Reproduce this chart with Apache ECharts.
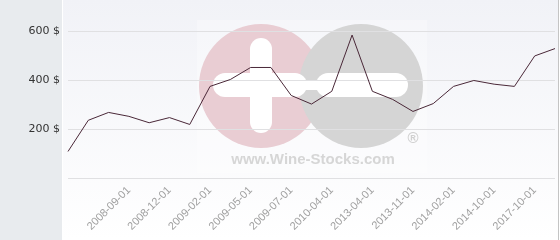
<!DOCTYPE html>
<html>
<head>
<meta charset="utf-8">
<script src="https://cdn.jsdelivr.net/npm/echarts@6/dist/echarts.min.js"></script>
<style>
html,body{margin:0;padding:0;background:#fff;}
#c{width:560px;height:240px;}
</style>
</head>
<body>
<div id="c"></div>
<script>
const categories = ['', '', '', '2008-09-01', '', '2008-12-01', '', '2009-02-01', '', '2009-05-01', '', '2009-07-01', '', '2010-04-01', '', '2013-04-01', '', '2013-11-01', '', '2014-02-01', '', '2014-10-01', '', '2017-10-01', ''];
const prices = [110, 237, 269, 253, 227, 248, 220, 375, 403, 452, 452, 338, 303, 355, 584, 355, 322, 273, 305, 375, 399, 384, 375, 499, 529];
const yTicks = [200, 400, 600];

const chart = echarts.init(document.getElementById('c'), null, {renderer: 'canvas'});
chart.setOption({
  animation: false,
  graphic: [
    {type: 'rect', z: -10, shape: {x: 0, y: 0, width: 62, height: 240}, style: {fill: '#e8ebee'}},
    {type: 'rect', z: -10, shape: {x: 63, y: 0, width: 495, height: 240},
      style: {fill: new echarts.graphic.LinearGradient(0, 0, 0, 1, [{offset: 0, color: '#f1f2f7'}, {offset: 1, color: '#ffffff'}])}},
    {type: 'rect', z: -10, shape: {x: 558, y: 0, width: 1, height: 240}, style: {fill: '#c4c4c4'}},
    {type: 'rect', z: -9, shape: {x: 197, y: 20, width: 230, height: 153}, style: {fill: 'rgba(255,255,255,0.3)'}},
    {type: 'circle', z: -8, shape: {cx: 261, cy: 86, r: 62}, style: {fill: '#e9cdd3'}},
    {type: 'circle', z: -7, shape: {cx: 361, cy: 86, r: 62}, style: {fill: '#d5d5d5'}},
    {type: 'rect', z: -6, shape: {x: 250, y: 38, width: 22, height: 95, r: 11}, style: {fill: '#ffffff'}},
    {type: 'rect', z: -6, shape: {x: 213, y: 73, width: 94, height: 24, r: 12}, style: {fill: '#ffffff'}},
    {type: 'rect', z: -6, shape: {x: 316, y: 73, width: 92, height: 24, r: 12}, style: {fill: '#ffffff'}},
    {type: 'rect', z: -6, shape: {x: 298, y: 80, width: 26, height: 10}, style: {fill: '#ffffff'}},
    {type: 'text', z: -6, style: {x: 313, y: 160, text: 'www.Wine-Stocks.com', fill: '#d6d6d6', font: 'bold 15px "Liberation Sans", Arial, sans-serif', textAlign: 'center', textVerticalAlign: 'middle'}},
    {type: 'text', z: -6, style: {x: 413, y: 139, text: '®', fill: '#d0d0d0', font: 'bold 15px "Liberation Sans", Arial, sans-serif', textAlign: 'center', textVerticalAlign: 'middle'}}
  ],
  grid: {left: 68, right: 5, top: -18, bottom: 61.5, containLabel: false, outerBoundsMode: 'none'},
  xAxis: {
    type: 'category',
    data: categories,
    boundaryGap: false,
    axisLine: {show: false},
    axisTick: {show: false},
    axisLabel: {interval: 0, rotate: 45, margin: 10, color: '#a0a0a0', fontSize: 11, fontFamily: '"Liberation Sans", Arial, sans-serif'}
  },
  yAxis: {
    type: 'value',
    min: 0, max: 800, interval: 200,
    axisLine: {show: false},
    axisTick: {show: false},
    splitLine: {lineStyle: {color: '#e0e0e2', width: 1}},
    axisLabel: {
      margin: 8, color: '#333', fontSize: 11, fontFamily: '"DejaVu Sans", sans-serif',
      formatter: v => yTicks.includes(v) ? v + ' $' : ''
    }
  },
  series: [{
    type: 'line',
    data: prices,
    symbol: 'none',
    lineStyle: {color: '#4a2838', width: 1},
    z: 5
  }]
});
</script>
</body>
</html>
